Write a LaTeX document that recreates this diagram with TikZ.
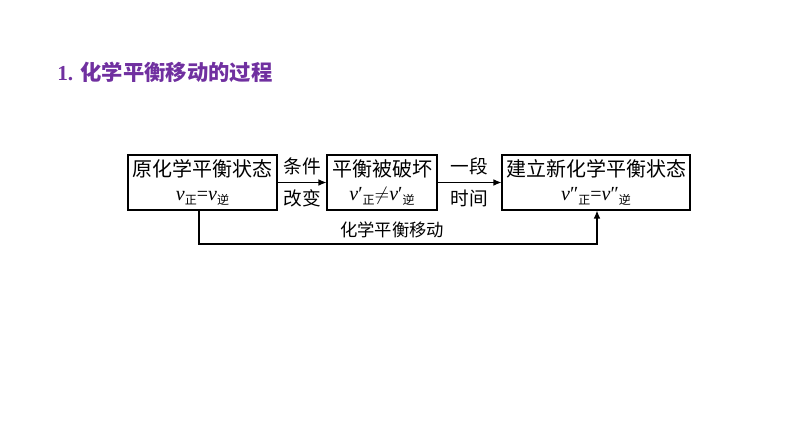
\documentclass[tikz,border=0pt]{standalone}
\usepackage{fontspec}
\setmainfont{Liberation Serif}
\newfontfamily\cjk{Noto Sans CJK SC}
\usetikzlibrary{arrows.meta}
\definecolor{titlepurple}{HTML}{7030A0}
\newcommand{\vsub}[2]{{\itshape v}#1\raisebox{-0.4ex}{\fontsize{9}{9}\selectfont\cjk #2}}
\begin{document}
\begin{tikzpicture}[x=0.75pt,y=-0.75pt,
  box/.style={draw,line width=0.8pt,minimum height=55*0.75pt,inner sep=0pt,align=center,
    font=\fontsize{15}{18}\selectfont},
  arr/.style={line width=0.8pt,-{Latex[length=6pt,width=5pt]}},
  lbl/.style={font=\fontsize{14}{14}\selectfont\cjk,inner sep=0pt}]
\useasboundingbox (0,0) rectangle (794,445);
\node[anchor=west,text=titlepurple,font=\fontsize{16}{16}\selectfont\bfseries,inner sep=0pt] (title) at (57,72) {1. {\cjk 化学平衡移动的过程}};
\node[box,minimum width=149*0.75pt] (b1) at (202.5,182.5) {{\cjk 原化学平衡状态}\\\vsub{}{正}=\vsub{}{逆}};
\node[box,minimum width=110*0.75pt] (b2) at (382,182.5) {{\cjk 平衡被破坏}\\\vsub{′}{正}$\neq$\vsub{′}{逆}};
\node[box,minimum width=188*0.75pt] (b3) at (596,182.5) {{\cjk 建立新化学平衡状态}\\\vsub{″}{正}=\vsub{″}{逆}};
\draw[arr] (b1) -- node[lbl,above=5pt] (l1) {条件} node[lbl,below=5pt] (l2) {改变} (b2);
\draw[arr] (b2) -- node[lbl,above=5pt] (l3) {一段} node[lbl,below=5pt] (l4) {时间} (b3);
\coordinate (c1) at (199,244);
\coordinate (c2) at (597,244);
\draw[arr] (b1.south -| c1) -- (c1) -- node[lbl,above=4pt,pos=0.485,font=\fontsize{13}{13}\selectfont\cjk] (l5) {化学平衡移动} (c2) -- (b3.south -| c2);
\end{tikzpicture}
\end{document}
